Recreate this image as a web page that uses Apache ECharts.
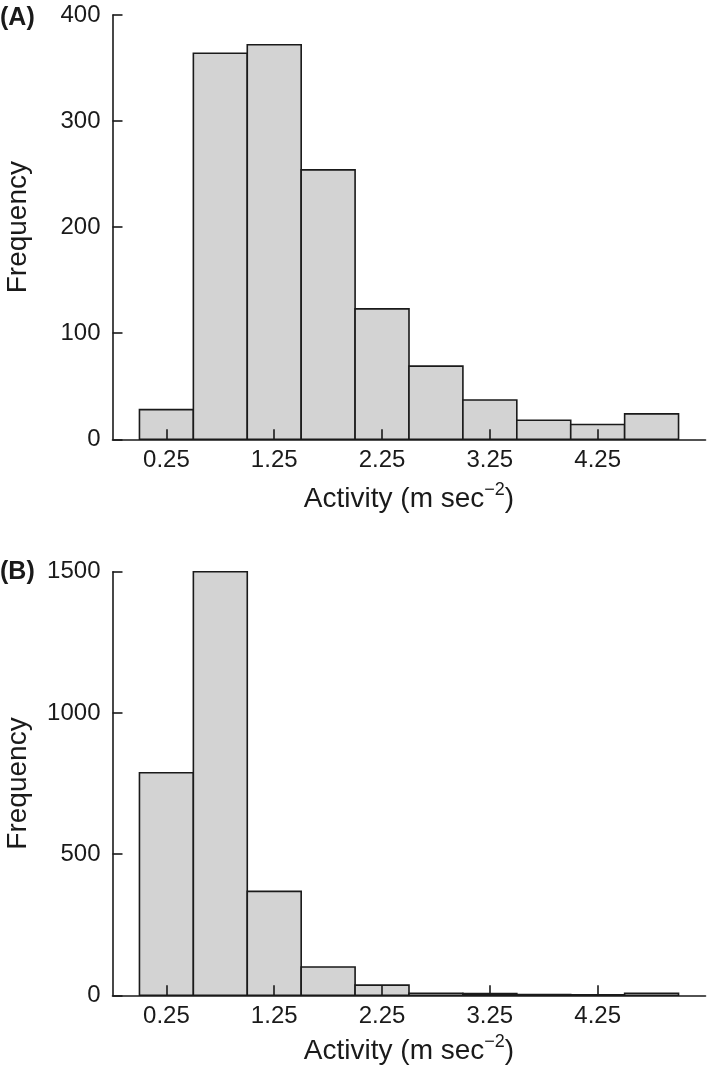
<!DOCTYPE html>
<html><head><meta charset="utf-8">
<script src="https://cdn.jsdelivr.net/npm/echarts@6/dist/echarts.min.js"></script>
<style>html,body{margin:0;padding:0;background:#fff}#c{width:709px;height:1076px}</style>
</head><body><div id="c"></div>
<script>
const binStarts = [0, 0.5, 1, 1.5, 2, 2.5, 3, 3.5, 4, 4.5];
const binWidth = 0.5;
const countsA = [28, 364, 372, 254, 123, 69, 37, 18, 14, 24];
const countsB = [788, 1500, 368, 100, 36, 7, 6, 3, 2, 7];
const xTickValues = [0.25, 1.25, 2.25, 3.25, 4.25];
const xTickLabels = ['0.25', '1.25', '2.25', '3.25', '4.25'];
const yTicksA = [0, 100, 200, 300, 400];
const yTicksB = [0, 500, 1000, 1500];
const panelLabels = ['(A)', '(B)'];

const FONT = '"Liberation Sans", Arial, Helvetica, sans-serif';
const INK = '#1a1a1a';

function binData(counts) {
  return binStarts.map((s, i) => [s, s + binWidth, counts[i]]);
}

function renderItem(params, api) {
  const p0 = api.coord([api.value(0), api.value(2)]);
  const p1 = api.coord([api.value(1), 0]);
  return {
    type: 'rect',
    shape: { x: p0[0], y: p0[1], width: p1[0] - p0[0], height: p1[1] - p0[1] },
    style: { fill: '#d3d3d3', stroke: INK, lineWidth: 1.6 }
  };
}

function xAxisFor(gridIndex, nameGap) {
  return {
    gridIndex, type: 'value', min: -0.25, max: 5.25, z: 5,
    axisLine: { show: true, onZero: false, lineStyle: { color: INK, width: 1.6 } },
    axisTick: { show: true, inside: true, length: 10, customValues: xTickValues, lineStyle: { color: INK, width: 1.6 } },
    axisLabel: {
      show: true, customValues: xTickValues, margin: 9,
      fontSize: 24, fontFamily: FONT, color: INK,
      formatter: v => xTickLabels[xTickValues.indexOf(v)]
    },
    splitLine: { show: false },
    name: '{t|Activity (m sec}{s|−2}{t|)}',
    nameLocation: 'middle', nameGap,
    nameTextStyle: {
      fontSize: 28, fontFamily: FONT, color: INK,
      rich: {
        t: { fontSize: 28, fontFamily: FONT, color: INK, lineHeight: 32, verticalAlign: 'bottom' },
        s: { fontSize: 18, fontFamily: FONT, color: INK, lineHeight: 32, verticalAlign: 'top', padding: [0, 0, 10, 0] }
      }
    }
  };
}

function yAxisFor(gridIndex, ticks) {
  return {
    gridIndex, type: 'value', min: ticks[0], max: ticks[ticks.length - 1], z: 5,
    axisLine: { show: true, onZero: false, lineStyle: { color: INK, width: 1.6 } },
    axisTick: { show: true, inside: true, length: 10, customValues: ticks, lineStyle: { color: INK, width: 1.6 } },
    axisLabel: { show: true, customValues: ticks, margin: 12, fontSize: 24, fontFamily: FONT, color: INK, formatter: v => String(v) },
    splitLine: { show: false },
    name: 'Frequency', nameLocation: 'middle', nameGap: 80,
    nameTextStyle: { fontSize: 28, fontFamily: FONT, color: INK }
  };
}

const chart = echarts.init(document.getElementById('c'), null, { renderer: 'canvas' });
chart.setOption({
  animation: false,
  backgroundColor: '#fff',
  grid: [
    { left: 112.5, right: 3.5, top: 15, bottom: 1076 - 439.3, containLabel: false, outerBoundsMode: 'none' },
    { left: 112.5, right: 3.5, top: 571.7, bottom: 1076 - 995.3, containLabel: false, outerBoundsMode: 'none' }
  ],
  xAxis: [xAxisFor(0, 42), xAxisFor(1, 38)],
  yAxis: [yAxisFor(0, yTicksA), yAxisFor(1, yTicksB)],
  graphic: [
    { type: 'text', left: 0, top: 6, style: { text: panelLabels[0], font: 'bold 25px ' + FONT, fill: INK } },
    { type: 'text', left: 0, top: 560, style: { text: panelLabels[1], font: 'bold 25px ' + FONT, fill: INK } }
  ],
  series: [
    { type: 'custom', xAxisIndex: 0, yAxisIndex: 0, renderItem, encode: { x: [0, 1], y: 2 }, data: binData(countsA) },
    { type: 'custom', xAxisIndex: 1, yAxisIndex: 1, renderItem, encode: { x: [0, 1], y: 2 }, data: binData(countsB) }
  ]
});
</script></body></html>
